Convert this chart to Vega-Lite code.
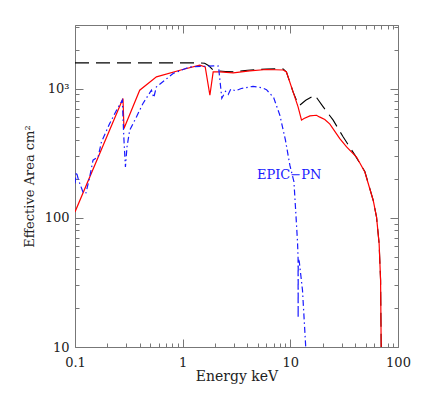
{
  "$schema": "https://vega.github.io/schema/vega-lite/v6.json",
  "width": 323,
  "height": 322,
  "autosize": "none",
  "padding": {"left": 75, "top": 25, "right": 25, "bottom": 51},
  "background": "white",
  "config": {
    "view": {"stroke": null},
    "font": "DejaVu Serif",
    "axis": {
      "domainColor": "#777777",
      "domainWidth": 1,
      "tickColor": "#777777",
      "tickWidth": 1,
      "grid": false,
      "labelFont": "DejaVu Serif",
      "labelFontSize": 13,
      "labelColor": "#222222",
      "titleFont": "DejaVu Serif",
      "titleFontSize": 14,
      "titleFontWeight": "normal",
      "titleColor": "#222222",
      "labelFlush": false,
      "labelOverlap": false
    }
  },
  "datasets": {
    "curves": [
      {"s": "black", "E": 0.1, "A": 1578},
      {"s": "black", "E": 1.45, "A": 1578},
      {"s": "black", "E": 1.6, "A": 1570},
      {"s": "black", "E": 1.75, "A": 1500},
      {"s": "black", "E": 1.9, "A": 1400},
      {"s": "black", "E": 2.0, "A": 1372},
      {"s": "black", "E": 2.5, "A": 1355},
      {"s": "black", "E": 3.0, "A": 1345},
      {"s": "black", "E": 4.0, "A": 1385},
      {"s": "black", "E": 6.0, "A": 1415},
      {"s": "black", "E": 8.0, "A": 1420},
      {"s": "black", "E": 8.6, "A": 1415},
      {"s": "black", "E": 9.2, "A": 1343},
      {"s": "black", "E": 10.6, "A": 942},
      {"s": "black", "E": 11.8, "A": 760},
      {"s": "black", "E": 12.2, "A": 741},
      {"s": "black", "E": 13.9, "A": 811},
      {"s": "black", "E": 16.9, "A": 887},
      {"s": "black", "E": 20.2, "A": 721},
      {"s": "black", "E": 25, "A": 569},
      {"s": "black", "E": 30.9, "A": 423},
      {"s": "black", "E": 39.8, "A": 305},
      {"s": "black", "E": 49.2, "A": 228},
      {"s": "black", "E": 58.9, "A": 136},
      {"s": "black", "E": 63.2, "A": 101},
      {"s": "black", "E": 66.8, "A": 63},
      {"s": "black", "E": 68.9, "A": 33},
      {"s": "black", "E": 69.8, "A": 10},
      {"s": "red", "E": 0.1, "A": 111},
      {"s": "red", "E": 0.279, "A": 837},
      {"s": "red", "E": 0.285, "A": 490},
      {"s": "red", "E": 0.399, "A": 971},
      {"s": "red", "E": 0.571, "A": 1231},
      {"s": "red", "E": 1.0, "A": 1403},
      {"s": "red", "E": 1.44, "A": 1514},
      {"s": "red", "E": 1.62, "A": 1469},
      {"s": "red", "E": 1.79, "A": 887},
      {"s": "red", "E": 1.92, "A": 1343},
      {"s": "red", "E": 2.21, "A": 1343},
      {"s": "red", "E": 2.95, "A": 1320},
      {"s": "red", "E": 4.2, "A": 1368},
      {"s": "red", "E": 6.0, "A": 1403},
      {"s": "red", "E": 8.6, "A": 1390},
      {"s": "red", "E": 9.2, "A": 1343},
      {"s": "red", "E": 10.6, "A": 942},
      {"s": "red", "E": 11.8, "A": 721},
      {"s": "red", "E": 12.7, "A": 569},
      {"s": "red", "E": 13.4, "A": 586},
      {"s": "red", "E": 15.2, "A": 614},
      {"s": "red", "E": 17.5, "A": 621},
      {"s": "red", "E": 18.6, "A": 603},
      {"s": "red", "E": 20.9, "A": 575},
      {"s": "red", "E": 23.3, "A": 530},
      {"s": "red", "E": 28.8, "A": 410},
      {"s": "red", "E": 33.3, "A": 353},
      {"s": "red", "E": 41.2, "A": 295},
      {"s": "red", "E": 49.2, "A": 226},
      {"s": "red", "E": 58.9, "A": 136},
      {"s": "red", "E": 63.2, "A": 101},
      {"s": "red", "E": 66.8, "A": 63},
      {"s": "red", "E": 68.9, "A": 33},
      {"s": "red", "E": 69.8, "A": 10},
      {"s": "blue", "E": 0.1, "A": 184},
      {"s": "blue", "E": 0.103, "A": 226},
      {"s": "blue", "E": 0.108, "A": 195},
      {"s": "blue", "E": 0.1186, "A": 158},
      {"s": "blue", "E": 0.126, "A": 154},
      {"s": "blue", "E": 0.137, "A": 207},
      {"s": "blue", "E": 0.147, "A": 279},
      {"s": "blue", "E": 0.164, "A": 296},
      {"s": "blue", "E": 0.176, "A": 386},
      {"s": "blue", "E": 0.21, "A": 536},
      {"s": "blue", "E": 0.243, "A": 679},
      {"s": "blue", "E": 0.275, "A": 813},
      {"s": "blue", "E": 0.284, "A": 422},
      {"s": "blue", "E": 0.294, "A": 247},
      {"s": "blue", "E": 0.304, "A": 353},
      {"s": "blue", "E": 0.322, "A": 475},
      {"s": "blue", "E": 0.372, "A": 603},
      {"s": "blue", "E": 0.428, "A": 766},
      {"s": "blue", "E": 0.513, "A": 971},
      {"s": "blue", "E": 0.539, "A": 851},
      {"s": "blue", "E": 0.57, "A": 1029},
      {"s": "blue", "E": 0.815, "A": 1306},
      {"s": "blue", "E": 1.16, "A": 1469},
      {"s": "blue", "E": 1.6, "A": 1486},
      {"s": "blue", "E": 2.0, "A": 1500},
      {"s": "blue", "E": 2.15, "A": 1490},
      {"s": "blue", "E": 2.31, "A": 841},
      {"s": "blue", "E": 2.5, "A": 950},
      {"s": "blue", "E": 2.65, "A": 900},
      {"s": "blue", "E": 2.8, "A": 990},
      {"s": "blue", "E": 3.1, "A": 960},
      {"s": "blue", "E": 3.5, "A": 1000},
      {"s": "blue", "E": 4.5, "A": 1040},
      {"s": "blue", "E": 5.5, "A": 1010},
      {"s": "blue", "E": 6.0, "A": 980},
      {"s": "blue", "E": 7.0, "A": 850},
      {"s": "blue", "E": 8.0, "A": 620},
      {"s": "blue", "E": 9.0, "A": 400},
      {"s": "blue", "E": 9.9, "A": 255},
      {"s": "blue", "E": 10.8, "A": 190},
      {"s": "blue", "E": 11.25, "A": 108},
      {"s": "blue", "E": 11.66, "A": 65},
      {"s": "blue", "E": 11.8, "A": 49},
      {"s": "blue", "E": 11.82, "A": 16.7},
      {"s": "blue", "E": 11.84, "A": 48},
      {"s": "blue", "E": 12.1, "A": 46},
      {"s": "blue", "E": 12.97, "A": 27.5},
      {"s": "blue", "E": 13.9, "A": 10}
    ],
    "labels": [
      {"E": 9.75, "A": 213, "t": "EPIC−PN"}
    ]
  },
  "layer": [
    {
      "data": {"name": "curves"},
      "transform": [{"filter": "datum.s == 'black'"}],
      "mark": {"type": "line", "color": "black", "strokeDash": [14, 7], "strokeWidth": 1.1, "clip": true},
      "encoding": {
        "x": {
          "field": "E", "type": "quantitative",
          "scale": {"type": "log", "domain": [0.1, 100], "nice": false},
          "axis": {
            "orient": "bottom",
            "title": "Energy keV",
            "values": [0.1,0.2,0.3,0.4,0.5,0.6,0.7,0.8,0.9,1,2,3,4,5,6,7,8,9,10,20,30,40,50,60,70,80,90,100],
            "labelExpr": "datum.value == 0.1 ? '0.1' : datum.value == 1 ? '1' : datum.value == 10 ? '10' : datum.value == 100 ? '100' : ''",
            "tickSize": {"condition": {"test": "abs(log(datum.value)/LN10 - round(log(datum.value)/LN10)) < 0.001", "value": -8}, "value": -4},
            "labelPadding": 17,
            "titlePadding": -4
          }
        },
        "y": {
          "field": "A", "type": "quantitative",
          "scale": {"type": "log", "domain": [10, 3100], "nice": false},
          "axis": {
            "orient": "left",
            "title": "Effective Area cm²",
            "titleFontSize": 13,
            "values": [10,20,30,40,50,60,70,80,90,100,200,300,400,500,600,700,800,900,1000,2000,3000],
            "labelExpr": "datum.value == 10 ? '10' : datum.value == 100 ? '100' : datum.value == 1000 ? '10³' : ''",
            "tickSize": {"condition": {"test": "abs(log(datum.value)/LN10 - round(log(datum.value)/LN10)) < 0.001", "value": -8}, "value": -4},
            "labelPadding": 14,
            "titlePadding": 8
          }
        }
      }
    },
    {
      "data": {"name": "curves"},
      "transform": [{"filter": "datum.s == 'red'"}],
      "mark": {"type": "line", "color": "#ff0000", "strokeWidth": 1.2, "clip": true},
      "encoding": {
        "x": {
          "field": "E", "type": "quantitative",
          "scale": {"type": "log", "domain": [0.1, 100], "nice": false},
          "axis": {
            "orient": "top",
            "title": null,
            "labels": false,
            "values": [0.1,0.2,0.3,0.4,0.5,0.6,0.7,0.8,0.9,1,2,3,4,5,6,7,8,9,10,20,30,40,50,60,70,80,90,100],
            "tickSize": {"condition": {"test": "abs(log(datum.value)/LN10 - round(log(datum.value)/LN10)) < 0.001", "value": -8}, "value": -4}
          }
        },
        "y": {
          "field": "A", "type": "quantitative",
          "scale": {"type": "log", "domain": [10, 3100], "nice": false},
          "axis": {
            "orient": "right",
            "title": null,
            "labels": false,
            "values": [10,20,30,40,50,60,70,80,90,100,200,300,400,500,600,700,800,900,1000,2000,3000],
            "tickSize": {"condition": {"test": "abs(log(datum.value)/LN10 - round(log(datum.value)/LN10)) < 0.001", "value": -8}, "value": -4}
          }
        }
      }
    },
    {
      "data": {"name": "curves"},
      "transform": [{"filter": "datum.s == 'blue'"}],
      "mark": {"type": "line", "color": "#1a1aff", "strokeDash": [6, 3, 1.5, 3], "strokeWidth": 1.2, "clip": true},
      "encoding": {
        "x": {"field": "E", "type": "quantitative", "scale": {"type": "log", "domain": [0.1, 100], "nice": false}, "axis": null},
        "y": {"field": "A", "type": "quantitative", "scale": {"type": "log", "domain": [10, 3100], "nice": false}, "axis": null}
      }
    },
    {
      "data": {"name": "labels"},
      "mark": {"type": "text", "color": "#1a1aff", "font": "DejaVu Serif", "fontSize": 13, "align": "center", "baseline": "middle"},
      "encoding": {
        "x": {"field": "E", "type": "quantitative", "scale": {"type": "log", "domain": [0.1, 100], "nice": false}, "axis": null},
        "y": {"field": "A", "type": "quantitative", "scale": {"type": "log", "domain": [10, 3100], "nice": false}, "axis": null},
        "text": {"field": "t"}
      }
    }
  ],
  "resolve": {"axis": {"x": "independent", "y": "independent"}}
}
